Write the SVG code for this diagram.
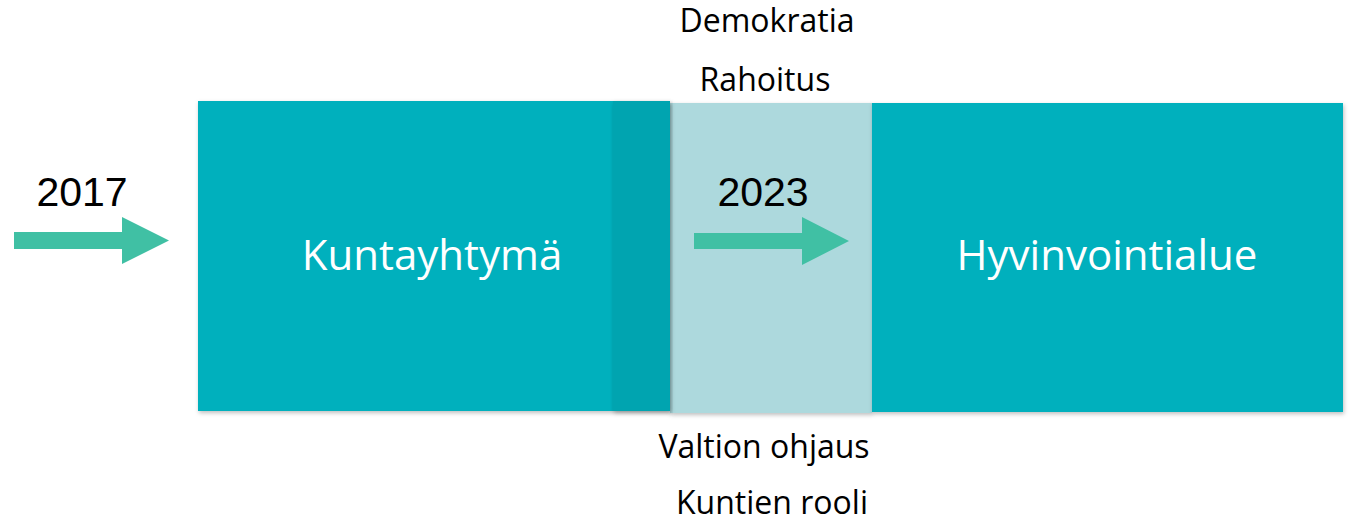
<svg xmlns="http://www.w3.org/2000/svg" width="1353" height="525" viewBox="0 0 1353 525">
<style>
.lbl{font-family:"Open Sans","Liberation Sans",sans-serif;font-size:32px;fill:#000;text-anchor:middle}
.year{font-family:"Liberation Sans",Arial,sans-serif;font-size:41px;fill:#000;text-anchor:middle}
.box{font-family:"Open Sans","Liberation Sans",sans-serif;font-size:42px;fill:#fff;text-anchor:middle}
.arrow{fill:#40C0A4}
</style>
<defs>
<filter id="sh" x="-5%" y="-5%" width="110%" height="115%">
<feDropShadow dx="1" dy="2" stdDeviation="2" flood-color="#000" flood-opacity="0.25"/>
</filter>
</defs>
<rect width="1353" height="525" fill="#fff"/>
<g id="middle">
<rect x="670" y="103" width="202" height="310" fill="#ADD9DD" filter="url(#sh)"/>
</g>
<g id="kuntayhtyma">
<rect x="198" y="101" width="472" height="310" fill="#00B0BD" filter="url(#sh)"/>
<rect x="613" y="101" width="57" height="310" fill="#00A4B0" filter="url(#sh)"/>
<text class="box" x="432" y="270">Kuntayhtymä</text>
</g>
<g id="hyvinvointialue">
<rect x="872" y="103" width="471" height="309" fill="#00B0BD" filter="url(#sh)"/>
<text class="box" x="1107" y="270">Hyvinvointialue</text>
</g>
<g id="labels">
<text class="lbl" x="767" y="32">Demokratia</text>
<text class="lbl" x="765" y="91">Rahoitus</text>
<text class="lbl" x="764" y="458">Valtion ohjaus</text>
<text class="lbl" x="772" y="514">Kuntien rooli</text>
<text class="year" x="82" y="206">2017</text>
<text class="year" x="763" y="206">2023</text>
</g>
<g id="connectors">
<polygon class="arrow" points="14,232 122,232 122,217 169,240.5 122,264 122,249 14,249"/>
<polygon class="arrow" points="694,233 802,233 802,217 849,241 802,265 802,249 694,249"/>
</g>
</svg>
